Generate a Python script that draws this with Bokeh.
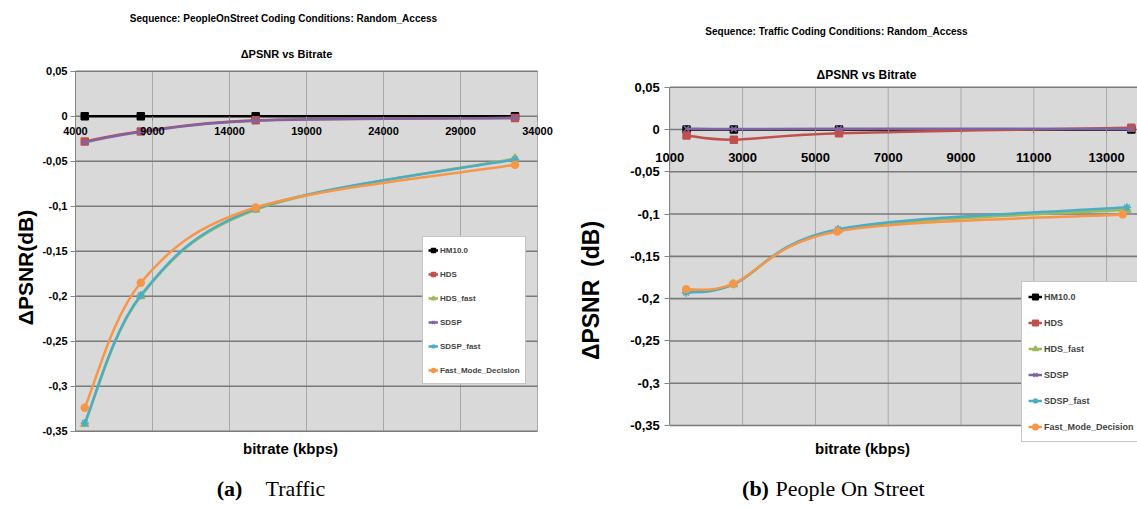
import math
from bokeh.plotting import figure
from bokeh.layouts import row
from bokeh.models import (FixedTicker, Label, Legend, LegendItem, Range1d,
                          ColumnDataSource, LinearAxis, BoxAnnotation)
from bokeh.embed import file_html
from bokeh.resources import INLINE

# ---------------- data ----------------
series_names = ["HM10.0", "HDS", "HDS_fast", "SDSP", "SDSP_fast", "Fast_Mode_Decision"]
series_colors = ["#000000", "#C0504D", "#9BBB59", "#8064A2", "#4BACC6", "#F79646"]
series_markers = ["square", "square", "triangle", "x", "asterisk", "circle"]

# panel (a): Sequence PeopleOnStreet
a_bitrate = [4600, 8240, 15700, 32540]
a_hm10 = [0.0, 0.0, 0.0, 0.0]
a_hds = [-0.028, -0.017, -0.0045, -0.002]
a_hds_fast = [-0.342, -0.200, -0.104, -0.047]
a_sdsp = [-0.029, -0.0175, -0.005, -0.002]
a_sdsp_fast = [-0.341, -0.199, -0.103, -0.048]
a_fmd = [-0.324, -0.185, -0.1015, -0.054]
a_xticks = [4000, 9000, 14000, 19000, 24000, 29000, 34000]
a_xlabels = ["4000", "9000", "14000", "19000", "24000", "29000", "34000"]

# panel (b): Sequence Traffic
b_bitrate_top = [1460, 2760, 5650, 13680]
b_bitrate_fast = [1450, 2750, 5620, 13560]
b_bitrate_fmd = [1450, 2740, 5600, 13440]
b_hm10 = [0.0, 0.0, 0.0, 0.0]
b_hds = [-0.007, -0.012, -0.0045, 0.002]
b_hds_fast = [-0.191, -0.183, -0.119, -0.095]
b_sdsp = [0.001, 0.0005, 0.001, 0.0005]
b_sdsp_fast = [-0.193, -0.183, -0.118, -0.092]
b_fmd = [-0.189, -0.1825, -0.1205, -0.1005]
b_xticks = [1000, 3000, 5000, 7000, 9000, 11000, 13000, 15000]
b_xlabels = ["1000", "3000", "5000", "7000", "9000", "11000", "13000", "15000"]

yticks = [0.05, 0.0, -0.05, -0.1, -0.15, -0.2, -0.25, -0.3, -0.35]
ylabels = ["0,05", "0", "-0,05", "-0,1", "-0,15", "-0,2", "-0,25", "-0,3", "-0,35"]

SANS = "Liberation Sans"
SERIF = "Liberation Serif"
GRAY_BG = "#d9d9d9"


def smooth(xs, ys):
    """Bezier segments through the points (Excel-style smoothed line)."""
    n = len(xs)
    d = dict(x0=[], y0=[], x1=[], y1=[], cx0=[], cy0=[], cx1=[], cy1=[])
    for i in range(n - 1):
        p0 = i - 1 if i > 0 else i
        p3 = i + 2 if i + 2 < n else i + 1
        d["x0"].append(xs[i]); d["y0"].append(ys[i])
        d["x1"].append(xs[i + 1]); d["y1"].append(ys[i + 1])
        d["cx0"].append(xs[i] + (xs[i + 1] - xs[p0]) / 6.0)
        d["cy0"].append(ys[i] + (ys[i + 1] - ys[p0]) / 6.0)
        d["cx1"].append(xs[i + 1] - (xs[p3] - xs[i]) / 6.0)
        d["cy1"].append(ys[i + 1] - (ys[p3] - ys[i]) / 6.0)
    return ColumnDataSource(d)


def make_panel(width, height, xcal, ycal, xmax, xticks, xlabels, series,
               tick_size, x_standoff, y_standoff, legend_cfg, texts):
    # xcal: ((px_a, val_a), (px_b, val_b)) ; ycal: (px of 0.05, px of -0.35)
    (pa, va), (pb, vb) = xcal
    kx = (vb - va) / (pb - pa)
    xr = Range1d(va - pa * kx, va + (width - pa) * kx)
    gt, gb = ycal
    ky = 0.40 / (gb - gt)
    yr = Range1d(-0.35 - (height - gb) * ky, 0.05 + gt * ky)
    xmin = xticks[0]

    p = figure(width=width, height=height, x_range=xr, y_range=yr,
               output_backend="svg", toolbar_location=None,
               x_axis_location=None, y_axis_location=None, min_border=0)
    p.title.visible = False
    p.background_fill_color = "white"
    p.border_fill_color = "white"
    p.outline_line_color = None
    p.xgrid.visible = False
    p.ygrid.visible = False

    # plot area
    p.add_layout(BoxAnnotation(left=xmin, right=xmax, bottom=-0.35, top=0.05,
                               fill_color=GRAY_BG, fill_alpha=1, line_color=None,
                               level="underlay"))
    vt = [t for t in xticks if t <= xmax]
    p.segment(x0=vt, y0=[-0.35] * len(vt), x1=vt, y1=[0.05] * len(vt),
              line_color="#a8a8a8", line_width=1)
    p.segment(x0=[xmin] * len(yticks), y0=yticks, x1=[xmax] * len(yticks),
              y1=yticks, line_color="#7a7a7a", line_width=1.6)

    # axes at fixed locations (Excel style: x axis crosses at 0)
    xa = LinearAxis(fixed_location=0, bounds=(xmin, xmax))
    xa.ticker = FixedTicker(ticks=xticks)
    xa.major_label_overrides = {t: l for t, l in zip(xticks, xlabels)}
    xa.axis_line_color = None
    xa.major_tick_line_color = "#868686"
    xa.major_tick_out = 4
    xa.major_tick_in = 0
    xa.minor_tick_line_color = None
    xa.major_label_standoff = x_standoff
    xa.major_label_text_font = SANS
    xa.major_label_text_font_style = "bold"
    xa.major_label_text_font_size = f"{tick_size}px"
    xa.major_label_text_color = "black"
    p.add_layout(xa, "below")

    ya = LinearAxis(fixed_location=xmin, bounds=(-0.35, 0.05))
    ya.ticker = FixedTicker(ticks=yticks)
    ya.major_label_overrides = {t: l for t, l in zip(yticks, ylabels)}
    ya.axis_line_color = "#868686"
    ya.major_tick_line_color = "#868686"
    ya.major_tick_out = 5
    ya.major_tick_in = 0
    ya.minor_tick_line_color = None
    ya.major_label_standoff = y_standoff
    ya.major_label_text_font = SANS
    ya.major_label_text_font_style = "bold"
    ya.major_label_text_font_size = f"{tick_size}px"
    ya.major_label_text_color = "black"
    p.add_layout(ya, "left")

    items = []
    for (name, col, mk, xs, ys) in series:
        lr = p.bezier(x0="x0", y0="y0", x1="x1", y1="y1", cx0="cx0", cy0="cy0",
                      cx1="cx1", cy1="cy1", source=smooth(xs, ys),
                      line_color=col, line_width=2.5)
        size = 7 if mk in ("square", "circle") else 8
        sr = p.scatter(xs, ys, marker=mk, size=size, fill_color=col,
                       line_color=col, line_width=1.5)
        items.append(LegendItem(label=name, renderers=[lr, sr]))

    lg = Legend(items=items, **legend_cfg)
    lg.background_fill_color = "white"
    lg.background_fill_alpha = 1
    lg.border_line_color = "#8c8c8c"
    lg.label_text_font = SANS
    lg.label_text_font_style = "bold"
    lg.margin = 0
    p.add_layout(lg)

    # surrounding texts, placed by figure pixel position
    def dx(px):
        return xr.start + px * kx

    def dy(py):
        return yr.end - py * ky

    for (txt, px, py, size, font, style, angle, align) in texts:
        p.add_layout(Label(x=dx(px), y=dy(py), text=txt, text_font=font,
                           text_font_size=f"{size}px", text_font_style=style,
                           text_align=align, text_baseline="middle",
                           angle=angle, text_color="black"))
    return p


series_a = list(zip(series_names, series_colors, series_markers,
                    [a_bitrate] * 6,
                    [a_hm10, a_hds, a_hds_fast, a_sdsp, a_sdsp_fast, a_fmd]))
series_b = list(zip(series_names, series_colors, series_markers,
                    [b_bitrate_top, b_bitrate_top, b_bitrate_fast,
                     b_bitrate_top, b_bitrate_fast, b_bitrate_fmd],
                    [b_hm10, b_hds, b_hds_fast, b_sdsp, b_sdsp_fast, b_fmd]))

texts_a = [
    ("Sequence: PeopleOnStreet Coding Conditions: Random_Access", 283, 18, 10, SANS, "bold", 0, "center"),
    ("ΔPSNR vs Bitrate", 286, 53, 11, SANS, "bold", 0, "center"),
    ("ΔPSNR(dB)", 25, 267, 21, SANS, "bold", math.pi / 2, "center"),
    ("bitrate (kbps)", 290, 448, 15, SANS, "bold", 0, "center"),
    ("(a)", 229, 488, 22, SERIF, "bold", 0, "center"),
    ("Traffic", 265, 488, 22, SERIF, "normal", 0, "left"),
]
texts_b = [
    ("Sequence: Traffic Coding Conditions: Random_Access", 268, 31, 10, SANS, "bold", 0, "center"),
    ("ΔPSNR vs Bitrate", 298, 74, 12, SANS, "bold", 0, "center"),
    ("ΔPSNR\u00a0\u00a0(dB)", 22, 290, 23, SANS, "bold", math.pi / 2, "center"),
    ("bitrate (kbps)", 294, 448, 15, SANS, "bold", 0, "center"),
    ("(b)", 187, 488, 22, SERIF, "bold", 0, "center"),
    ("People On Street", 207, 488, 22, SERIF, "normal", 0, "left"),
]

legend_a = dict(location=(422, 125), label_text_font_size="8px", glyph_width=10,
                glyph_height=16, label_height=16, spacing=8, padding=5,
                label_standoff=2)
legend_b = dict(location=(453, 67), label_text_font_size="9px", glyph_width=14,
                glyph_height=17, label_height=17, spacing=9, padding=6,
                label_standoff=2)

p1 = make_panel(568, 509, ((75, 4000), (537, 34000)), (70.7, 430.7), 34000,
                a_xticks, a_xlabels, series_a, 11, 7, 3, legend_a, texts_a)
p2 = make_panel(569, 509, ((101.3, 1000), (538.1, 13000)), (86.7, 425), 15000,
                b_xticks, b_xlabels, series_b, 13, 20, 5, legend_b, texts_b)

layout = row(p1, p2, spacing=0)
open("out.html", "w").write(file_html(layout, INLINE))
